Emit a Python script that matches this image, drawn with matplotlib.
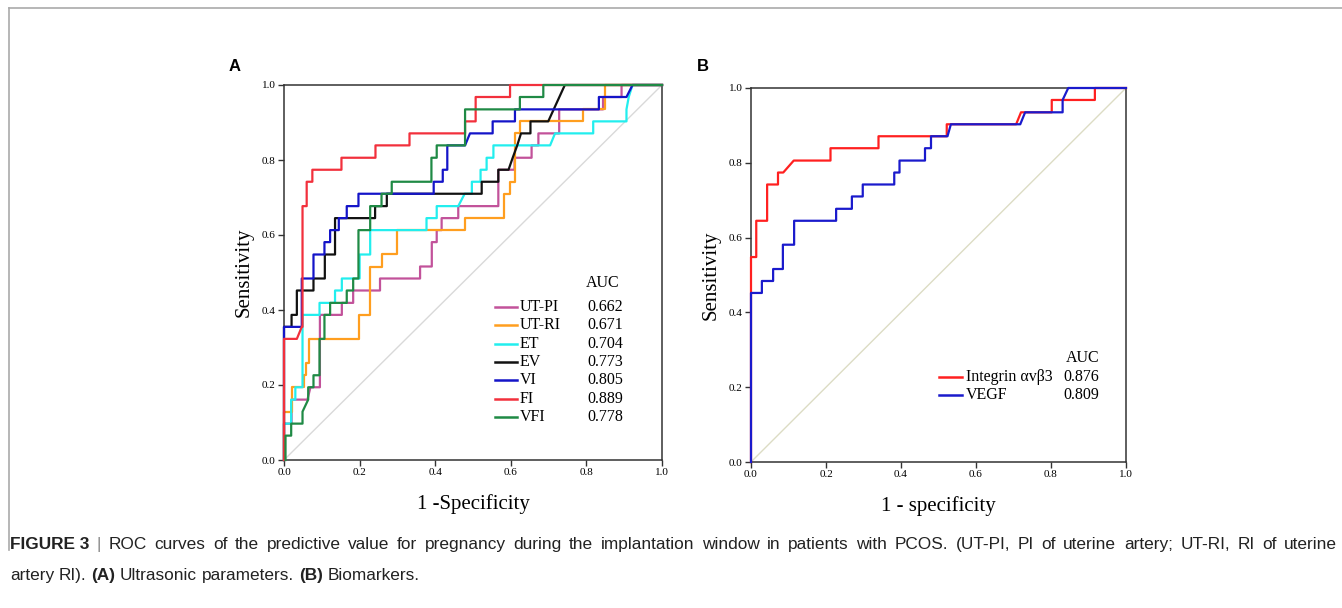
import matplotlib
matplotlib.use("Agg")
import matplotlib.pyplot as plt
from matplotlib.lines import Line2D

plt.rcParams['font.family'] = ['Liberation Serif', 'DejaVu Serif']

# ---- panel A: ultrasonic parameters (fpr, tpr) corners ----
roc_utpi = [(0, 0), (0, 0.097), (0.02, 0.097), (0.02, 0.161), (0.062, 0.161), (0.07, 0.194),
            (0.095, 0.194), (0.095, 0.387), (0.153, 0.387), (0.153, 0.419), (0.183, 0.419),
            (0.183, 0.452), (0.254, 0.452), (0.254, 0.484), (0.36, 0.484), (0.36, 0.516),
            (0.391, 0.516), (0.391, 0.581), (0.404, 0.581), (0.404, 0.613), (0.417, 0.613),
            (0.417, 0.645), (0.461, 0.645), (0.461, 0.677), (0.567, 0.677), (0.567, 0.774),
            (0.61, 0.774), (0.61, 0.806), (0.655, 0.806), (0.655, 0.839), (0.673, 0.839),
            (0.673, 0.871), (0.728, 0.871), (0.728, 0.935), (0.844, 0.935), (0.844, 0.968),
            (0.893, 0.968), (0.893, 1.0), (1, 1)]
roc_utri = [(0, 0), (0, 0.129), (0.02, 0.129), (0.02, 0.194), (0.052, 0.194), (0.052, 0.226),
            (0.059, 0.226), (0.059, 0.258), (0.066, 0.258), (0.066, 0.323), (0.198, 0.323),
            (0.198, 0.387), (0.228, 0.387), (0.228, 0.516), (0.258, 0.516), (0.258, 0.548),
            (0.30, 0.548), (0.30, 0.613), (0.479, 0.613), (0.479, 0.645), (0.582, 0.645),
            (0.582, 0.710), (0.598, 0.710), (0.598, 0.742), (0.611, 0.742), (0.611, 0.871),
            (0.624, 0.871), (0.624, 0.903), (0.79, 0.903), (0.79, 0.935), (0.848, 0.935),
            (0.848, 1.0), (1, 1)]
roc_et = [(0, 0), (0, 0.097), (0.019, 0.097), (0.019, 0.161), (0.03, 0.161), (0.03, 0.194),
          (0.049, 0.194), (0.049, 0.387), (0.094, 0.387), (0.094, 0.419), (0.135, 0.419),
          (0.135, 0.452), (0.153, 0.452), (0.153, 0.484), (0.2, 0.484), (0.2, 0.548),
          (0.228, 0.548), (0.228, 0.613), (0.377, 0.613), (0.377, 0.645), (0.404, 0.645),
          (0.404, 0.677), (0.461, 0.677), (0.478, 0.710), (0.497, 0.710), (0.497, 0.742),
          (0.52, 0.742), (0.52, 0.774), (0.536, 0.774), (0.536, 0.806), (0.554, 0.806),
          (0.554, 0.839), (0.704, 0.839), (0.717, 0.871), (0.818, 0.871), (0.818, 0.903),
          (0.906, 0.903), (0.906, 0.935), (0.912, 0.968), (0.922, 1.0), (1, 1)]
roc_ev = [(0, 0), (0, 0.355), (0.02, 0.355), (0.02, 0.387), (0.034, 0.387), (0.034, 0.452),
          (0.078, 0.452), (0.078, 0.484), (0.108, 0.484), (0.108, 0.548), (0.135, 0.548),
          (0.135, 0.645), (0.241, 0.645), (0.241, 0.677), (0.272, 0.677), (0.272, 0.710),
          (0.523, 0.710), (0.523, 0.742), (0.567, 0.742), (0.567, 0.774), (0.594, 0.774),
          (0.605, 0.806), (0.617, 0.839), (0.627, 0.871), (0.652, 0.871), (0.652, 0.903),
          (0.699, 0.903), (0.743, 1.0), (1, 1)]
roc_vi = [(0, 0), (0, 0.355), (0.047, 0.355), (0.047, 0.484), (0.078, 0.484), (0.078, 0.548),
          (0.107, 0.548), (0.107, 0.581), (0.122, 0.581), (0.122, 0.613), (0.145, 0.613),
          (0.145, 0.645), (0.166, 0.645), (0.166, 0.677), (0.197, 0.677), (0.197, 0.710),
          (0.396, 0.710), (0.396, 0.742), (0.42, 0.742), (0.42, 0.774), (0.432, 0.774),
          (0.432, 0.839), (0.479, 0.839), (0.492, 0.871), (0.552, 0.871), (0.552, 0.903),
          (0.611, 0.903), (0.611, 0.935), (0.833, 0.935), (0.833, 0.968), (0.906, 0.968),
          (0.922, 1.0), (1, 1)]
roc_fi = [(0, 0), (0, 0.323), (0.034, 0.323), (0.047, 0.355), (0.049, 0.355), (0.049, 0.677),
          (0.06, 0.677), (0.06, 0.742), (0.075, 0.742), (0.075, 0.774), (0.152, 0.774),
          (0.152, 0.806), (0.242, 0.806), (0.242, 0.839), (0.332, 0.839), (0.332, 0.871),
          (0.479, 0.871), (0.479, 0.903), (0.507, 0.903), (0.507, 0.968), (0.598, 0.968),
          (0.598, 1.0), (1, 1)]
roc_vfi = [(0.004, 0), (0.004, 0.065), (0.019, 0.065), (0.019, 0.097), (0.049, 0.097),
           (0.049, 0.129), (0.064, 0.161), (0.064, 0.194), (0.078, 0.194), (0.078, 0.226),
           (0.094, 0.226), (0.094, 0.323), (0.107, 0.323), (0.107, 0.387), (0.122, 0.387),
           (0.122, 0.419), (0.166, 0.419), (0.166, 0.452), (0.183, 0.452), (0.183, 0.484),
           (0.197, 0.484), (0.197, 0.613), (0.228, 0.613), (0.228, 0.677), (0.258, 0.677),
           (0.258, 0.710), (0.285, 0.710), (0.285, 0.742), (0.39, 0.742), (0.39, 0.806),
           (0.404, 0.806), (0.404, 0.839), (0.479, 0.839), (0.479, 0.935), (0.624, 0.935),
           (0.624, 0.968), (0.686, 0.968), (0.686, 1.0), (1, 1)]

names_a = ['UT-PI', 'UT-RI', 'ET', 'EV', 'VI', 'FI', 'VFI']
auc_a = ['0.662', '0.671', '0.704', '0.773', '0.805', '0.889', '0.778']
curves_a = [roc_utpi, roc_utri, roc_et, roc_ev, roc_vi, roc_fi, roc_vfi]
colors_a = ['#c2529a', '#ff9e1f', '#22eeee', '#111111', '#1414c8', '#f2303c', '#1f8a45']

# ---- panel B: biomarkers ----
roc_integrin = [(0, 0), (0, 0.548), (0.014, 0.548), (0.014, 0.645), (0.043, 0.645),
                (0.043, 0.742), (0.072, 0.742), (0.072, 0.774), (0.086, 0.774), (0.114, 0.806),
                (0.212, 0.806), (0.212, 0.839), (0.34, 0.839), (0.34, 0.871), (0.522, 0.871),
                (0.522, 0.903), (0.707, 0.903), (0.72, 0.935), (0.802, 0.935), (0.802, 0.968),
                (0.917, 0.968), (0.917, 1.0), (1, 1)]
roc_vegf = [(0, 0), (0, 0.452), (0.029, 0.452), (0.029, 0.484), (0.059, 0.484), (0.059, 0.516),
            (0.085, 0.516), (0.085, 0.581), (0.115, 0.581), (0.115, 0.645), (0.227, 0.645),
            (0.227, 0.677), (0.269, 0.677), (0.269, 0.710), (0.298, 0.710), (0.298, 0.742),
            (0.382, 0.742), (0.382, 0.774), (0.396, 0.774), (0.396, 0.806), (0.464, 0.806),
            (0.464, 0.839), (0.48, 0.839), (0.48, 0.871), (0.524, 0.871), (0.533, 0.903),
            (0.718, 0.903), (0.731, 0.935), (0.831, 0.935), (0.831, 0.968), (0.846, 1.0), (1, 1)]

names_b = ['Integrin αvβ3', 'VEGF']
auc_b = ['0.876', '0.809']
curves_b = [roc_integrin, roc_vegf]
colors_b = ['#ff2020', '#1a1acc']

ticks = [0.0, 0.2, 0.4, 0.6, 0.8, 1.0]

caption_1 = [('FIGURE 3', True, '#222222'), ('|', False, '#888888'),
             ('ROC curves of the predictive value for pregnancy during the implantation '
              'window in patients with PCOS. (UT-PI, PI of uterine artery; UT-RI, RI of uterine',
              False, '#222222')]
caption_2 = [('artery RI).', False, '#222222'), ('(A)', True, '#222222'),
             ('Ultrasonic parameters.', False, '#222222'), ('(B)', True, '#222222'),
             ('Biomarkers.', False, '#222222')]

W, H = 1342, 608
fig = plt.figure(figsize=(W / 100, H / 100), dpi=100)

# light frame of the figure panel
fig.add_artist(Line2D([9 / W, 1], [1 - 8 / H] * 2, color='#aaaaaa', lw=1.2))
fig.add_artist(Line2D([9 / W, 9 / W], [1 - 8 / H, 1 - 550 / H], color='#aaaaaa', lw=1.2))

axA = fig.add_axes([284 / W, 1 - 460 / H, 378 / W, 375 / H])
axB = fig.add_axes([751 / W, 1 - 462 / H, 375 / W, 374 / H])


def style_axis(ax, diag_color):
    ax.plot([0, 1], [0, 1], color=diag_color, lw=1, zorder=1)
    ax.set_xlim(0, 1)
    ax.set_ylim(0, 1)
    ax.set_xticks(ticks)
    ax.set_yticks(ticks)
    ax.set_xticklabels([f'{t:.1f}' for t in ticks])
    ax.set_yticklabels([f'{t:.1f}' for t in ticks])
    ax.tick_params(direction='out', length=4, width=1, labelsize=8, pad=2, color='#333333')
    for s in ax.spines.values():
        s.set_linewidth(1.1)
        s.set_color('#333333')


style_axis(axA, '#d9d9d9')
for pts, col in zip(curves_a, colors_a):
    xs, ys = zip(*pts)
    axA.plot(xs, ys, color=col, lw=1.6, zorder=3, clip_on=False)
axA.set_xlabel('1 -Specificity', fontsize=15, labelpad=12)
axA.set_ylabel('Sensitivity', fontsize=15, labelpad=6)

# legend A (unframed list with AUC column)
axA.text(0.844, 0.472, 'AUC', fontsize=11.5, ha='center', va='center', transform=axA.transAxes)
for i, (nm, v, col) in enumerate(zip(names_a, auc_a, colors_a)):
    y = 0.408 - i * 0.0489
    axA.add_line(Line2D([0.558, 0.616], [y, y], color=col, lw=1.8, transform=axA.transAxes))
    axA.text(0.624, y, nm, fontsize=11.5, va='center', transform=axA.transAxes)
    axA.text(0.802, y, v, fontsize=11.5, va='center', transform=axA.transAxes)

style_axis(axB, '#dcdcc4')
for pts, col in zip(curves_b, colors_b):
    xs, ys = zip(*pts)
    axB.plot(xs, ys, color=col, lw=1.6, zorder=3, clip_on=False)
axB.set_xlabel('1 - specificity', fontsize=15, labelpad=12)
axB.set_ylabel('Sensitivity', fontsize=15, labelpad=6)

axB.text(0.884, 0.277, 'AUC', fontsize=11.5, ha='center', va='center', transform=axB.transAxes)
for i, (nm, v, col) in enumerate(zip(names_b, auc_b, colors_b)):
    y = 0.227 - i * 0.049
    axB.add_line(Line2D([0.502, 0.563], [y, y], color=col, lw=1.8, transform=axB.transAxes))
    axB.text(0.574, y, nm, fontsize=11.5, va='center', transform=axB.transAxes)
    axB.text(0.832, y, v, fontsize=11.5, va='center', transform=axB.transAxes)

# panel letters
fig.text(229 / W, 1 - 71 / H, 'A', fontsize=12, fontweight='bold', family='Liberation Sans')
fig.text(697 / W, 1 - 71 / H, 'B', fontsize=12, fontweight='bold', family='Liberation Sans')

# caption: word by word, first line justified to the right margin
cap_font = ['Liberation Sans Narrow', 'Liberation Sans']
renderer = fig.canvas.get_renderer()
cap_size = 12.4


def caption_line(x_px, base_px, runs, justify_to=None):
    items = []
    for txt, bold, col in runs:
        words = [txt] if bold else txt.split()
        for word in words:
            t = fig.text(0, 1 - base_px / H, word, fontsize=cap_size, color=col, va='baseline',
                         fontweight='bold' if bold else 'normal', family=cap_font)
            items.append((t, t.get_window_extent(renderer).width))
    probe = fig.text(0, 0, 'a a', fontsize=cap_size, family=cap_font)
    probe2 = fig.text(0, 0, 'aa', fontsize=cap_size, family=cap_font)
    gap = probe.get_window_extent(renderer).width - probe2.get_window_extent(renderer).width
    probe.remove()
    probe2.remove()
    if justify_to is not None:
        gap = (justify_to - x_px - sum(w for _, w in items)) / (len(items) - 1)
    x = x_px
    for t, w in items:
        t.set_x(x / W)
        x += w + gap


caption_line(10, 549, caption_1, justify_to=1337)
caption_line(10, 580, caption_2)

fig.savefig('out.png', dpi=100)
